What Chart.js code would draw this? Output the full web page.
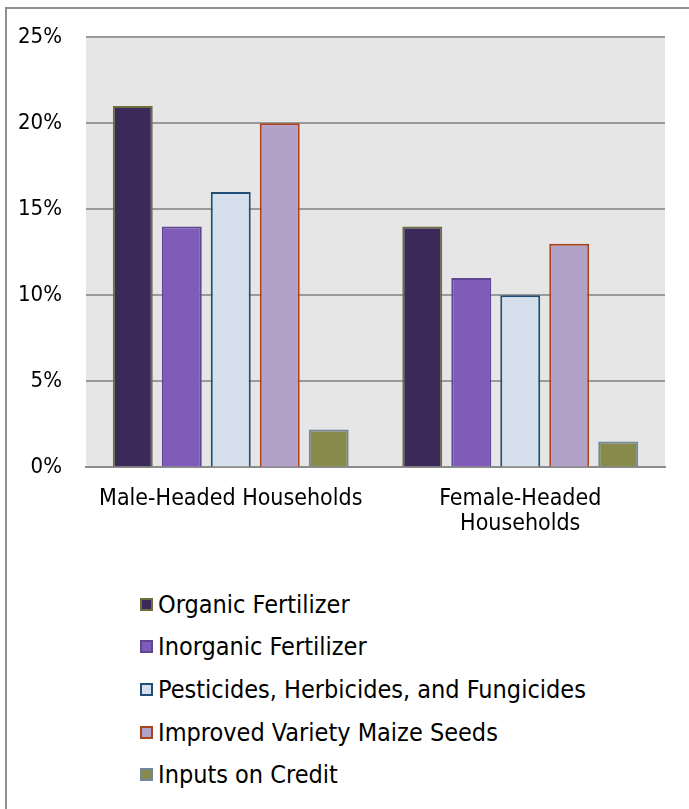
<!DOCTYPE html>
<html>
<head>
<meta charset="utf-8">
<script src="https://cdn.jsdelivr.net/npm/chart.js@4/dist/chart.umd.min.js"></script>
<style>
  html, body { margin: 0; padding: 0; background: #fff; }
  body { width: 689px; height: 809px; position: relative; overflow: hidden; font-family: 'DejaVu Sans Condensed', 'DejaVu Sans', sans-serif; }
  #frame { position: absolute; left: 5px; top: 7px; width: 800px; height: 900px; border: 2px solid #8f8f8f; box-sizing: border-box; }
  #wrap { position: absolute; left: 0; top: 0; width: 689px; height: 580px; }
  #legend { position: absolute; left: 140px; top: 583px; list-style: none; margin: 0; padding: 0; }
  #legend li { height: 42.6px; display: flex; align-items: center; font-size: 25px; color: #000; }
  #legend span.box { display: inline-block; width: 9px; height: 9px; border: 2px solid; margin-right: 5px; }
</style>
</head>
<body>
<div id="frame"></div>
<div id="wrap"><canvas id="myChart"></canvas></div>
<ul id="legend"></ul>
<script>
'use strict';
let categories = ['Male-Headed Households', ['Female-Headed', 'Households']];
let seriesNames = ['Organic Fertilizer', 'Inorganic Fertilizer', 'Pesticides, Herbicides, and Fungicides', 'Improved Variety Maize Seeds', 'Inputs on Credit'];
let organic = [21, 14];
let inorganic = [14, 11];
let pesticides = [16, 10];
let improved = [20, 13];
let credit = [2.2, 1.5];
let yTicks = [0, 5, 10, 15, 20, 25];

let fills = ['#3b2959', '#7f5bba', '#d5e0ec', '#b3a2c8', '#878a4a'];
let borders = ['#6e6e3c', '#5e4690', '#1f4e79', '#a9441d', '#6f88a0'];
let values = [organic, inorganic, pesticides, improved, credit];

let fontFam = "'DejaVu Sans Condensed', 'DejaVu Sans', sans-serif";

let datasets = [];
for (let i = 0; i < seriesNames.length; i++) {
  datasets.push({
    label: seriesNames[i],
    data: values[i],
    backgroundColor: fills[i],
    borderColor: borders[i],
    borderWidth: 2,
    categoryPercentage: 0.846,
    barPercentage: 0.816
  });
}

// gray plot background
let plotBg = {
  id: 'plotBg',
  beforeDraw(chart) {
    let a = chart.chartArea;
    let ctx = chart.ctx;
    ctx.save();
    ctx.fillStyle = '#e6e6e6';
    ctx.fillRect(a.left, a.top, a.right - a.left, a.bottom - a.top);
    ctx.restore();
  }
};

let ctx = document.getElementById('myChart').getContext('2d');
let myChart = new Chart(ctx, {
  type: 'bar',
  data: { labels: categories, datasets: datasets },
  options: {
    responsive: true,
    maintainAspectRatio: false,
    animation: false,
    layout: { padding: { left: 0, right: 24, top: 23, bottom: 24 } },
    plugins: {
      legend: { display: false },
      tooltip: { enabled: false }
    },
    scales: {
      x: {
        grid: { display: false, drawTicks: false },
        border: { display: true, color: '#8c8c8c', width: 2 },
        ticks: {
          color: '#000',
          padding: 19,
          maxRotation: 0,
          font: { size: 23, family: fontFam, lineHeight: 1.1 }
        }
      },
      y: {
        min: 0,
        max: 25,
        afterBuildTicks(axis) { axis.ticks = yTicks.map(v => ({ value: v })); },
        afterFit(axis) { axis.width = 86; },
        grid: { color: '#9a9a9a', lineWidth: 2, drawTicks: false },
        border: { display: false },
        ticks: {
          color: '#000',
          padding: 24,
          callback: v => v + '%',
          font: { size: 22, family: fontFam }
        }
      }
    }
  },
  plugins: [plotBg]
});

let legendEl = document.getElementById('legend');
for (let i = 0; i < datasets.length; i++) {
  let li = document.createElement('li');
  let box = document.createElement('span');
  box.className = 'box';
  box.style.background = datasets[i].backgroundColor;
  box.style.borderColor = datasets[i].borderColor;
  li.appendChild(box);
  li.appendChild(document.createTextNode(datasets[i].label));
  legendEl.appendChild(li);
}
</script>
</body>
</html>
